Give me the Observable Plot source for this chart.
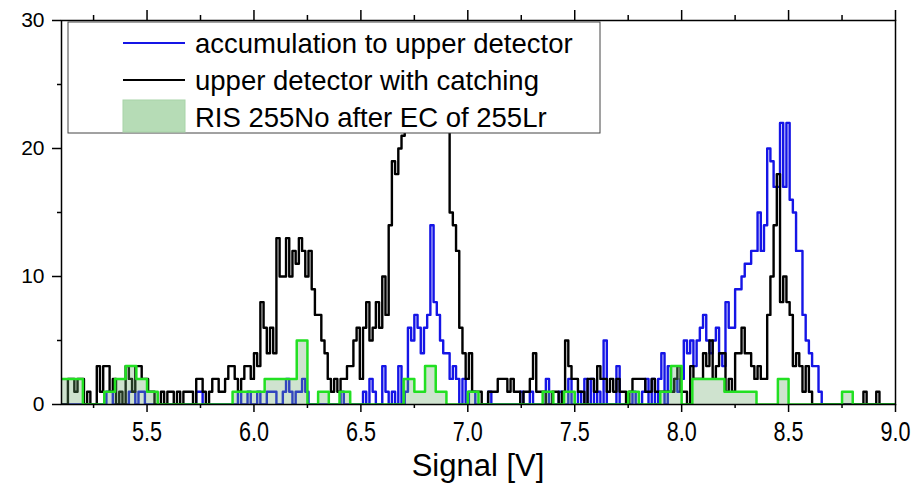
<!DOCTYPE html>
<html><head><meta charset="utf-8">
<script src="https://cdn.jsdelivr.net/npm/d3@7"></script>
<script src="https://cdn.jsdelivr.net/npm/@observablehq/plot@0.6"></script>
<style>
body{margin:0;background:#fff;}
#chart{width:924px;height:484px;}
</style></head><body><div id="chart"></div>
<script>
// ---- data ----
const binStart = 5.1;
const fineBinWidth = 0.015;   // black & blue histograms
const coarseBinWidth = 0.05;  // green (RIS) histogram

// upper detector with catching (black), 20 bins per row = 0.3 V
const upperDetectorCatching = [
  0,0,2,2,1,2,2,0,1,0,0,3,1,3,3,1,2,0,1,0,
  3,2,1,3,3,2,2,1,1,0,0,1,0,1,1,0,1,0,1,1,
  1,0,2,2,1,0,1,2,2,1,1,2,3,3,2,1,2,3,3,2,
  4,3,8,6,4,6,4,13,10,10,13,10,12,11,13,12,10,12,9,7,
  7,5,4,2,1,2,1,2,2,3,3,5,6,2,6,8,5,6,8,6,
  10,7,14,19,18,20,21,23,24,25,24,26,25,27,26,25,26,24,25,23,
  24,15,14,12,6,4,2,4,1,1,1,0,0,1,1,1,2,2,2,1,
  2,1,1,0,1,1,2,4,1,1,1,0,0,1,1,0,1,5,3,2,
  2,1,1,0,2,2,1,3,2,2,1,2,1,2,1,1,0,1,2,2,
  2,2,1,1,2,1,1,1,1,1,1,2,3,1,1,0,3,2,2,2,
  4,3,5,2,3,4,4,1,2,1,4,4,6,4,4,3,2,3,2,2,
  7,10,14,18,8,10,8,7,3,4,3,1,3,1,0,0,0,0,0,0,
  0,0,0,0,0,0,0,0,0,0,1,0,0,0,1,0,0,0,0,0
];

// accumulation to upper detector (blue)
const accumulationUpper = [
  0,0,0,0,0,0,0,0,0,0,0,0,0,0,1,1,0,0,0,0,
  0,1,1,0,1,1,0,0,0,0,0,0,0,0,0,0,0,0,0,0,
  0,0,1,1,0,0,0,0,0,0,0,0,0,0,0,1,0,0,1,0,
  0,1,0,0,1,1,1,0,0,1,2,1,0,1,1,2,1,0,0,0,
  0,0,0,0,0,0,0,1,0,0,0,0,0,0,1,0,2,1,0,0,
  3,1,0,1,0,3,0,1,6,5,7,6,4,6,7,14,8,7,5,4,
  4,2,3,2,0,2,0,1,1,0,0,0,0,1,0,0,0,0,0,0,
  0,0,0,1,0,0,1,0,0,0,0,2,0,0,0,1,0,0,2,0,
  0,1,0,2,0,2,0,1,0,5,0,0,0,3,0,0,0,0,1,0,
  0,1,2,0,2,0,2,4,0,3,1,2,1,2,5,4,5,3,5,6,
  7,5,4,5,6,4,3,8,6,6,9,9,10,11,11,12,12,15,12,14,
  20,19,17,17,22,17,22,16,15,12,12,7,5,4,3,3,1,0,0,0,
  0,0,0,0,0,0,0,0,0,0,0,0,0,0,0,0,0,0,0,0
];

// RIS 255No after EC of 255Lr (green), 0.05 V bins
const risNo255 = [
  2,2,0,0,1,2,3,2,1,0,
  0,0,0,0,0,0,1,1,1,2,
  2,2,5,0,1,0,1,0,0,0,
  0,0,2,1,3,1,0,0,1,0,
  0,0,0,0,0,1,0,1,0,0,
  0,0,0,1,0,0,1,3,0,2,
  2,2,1,1,1,0,0,2,0,0,
  0,0,0,1,0,0,0,0
];

const xTicks = [5.5, 6.0, 6.5, 7.0, 7.5, 8.0, 8.5, 9.0];
const xMinorTicks = [5.25, 5.75, 6.25, 6.75, 7.25, 7.75, 8.25, 8.75];
const yTicks = [0, 10, 20, 30];
const yMinorTicks = [5, 15, 25];
const seriesNames = ["accumulation to upper detector", "upper detector with catching", "RIS 255No after EC of 255Lr"];
const xLabel = "Signal [V]";

// ---- build step tables ----
function toSteps(values, w) {
  const pts = values.map((v, i) => ({x: binStart + i * w, y: v}));
  pts.push({x: binStart + values.length * w, y: values[values.length - 1]});
  return pts;
}
const black = toSteps(upperDetectorCatching, fineBinWidth);
const blue = toSteps(accumulationUpper, fineBinWidth);
const green = toSteps(risNo255, coarseBinWidth);

const FONT = "'Liberation Sans', Arial, sans-serif";
const blank = () => "";
const fmt1 = d3.format(".1f");

const chart = Plot.plot({
  width: 924, height: 484,
  marginLeft: 61, marginRight: 29, marginTop: 20, marginBottom: 80,
  x: {domain: [5.1, 9.0]},
  y: {domain: [0, 30]},
  style: {fontFamily: FONT, fontSize: "21px", color: "black", background: "white"},
  marks: [
    Plot.line(blue, {x: "x", y: "y", curve: "step-after", stroke: "#1515e6", strokeWidth: 2.4, clip: true}),
    Plot.line(black, {x: "x", y: "y", curve: "step-after", stroke: "black", strokeWidth: 2.4, clip: true}),
    Plot.areaY(green, {x: "x", y: "y", curve: "step-after", fill: "#6aa86a", fillOpacity: 0.32, clip: true}),
    Plot.line(green, {x: "x", y: "y", curve: "step-after", stroke: "#22e022", strokeWidth: 2.5, clip: true}),
    Plot.axisX({ticks: xTicks, tickSize: 8, tickPadding: 9, strokeWidth: 1.5, tickFormat: fmt1, label: null}),
    Plot.axisX({ticks: xMinorTicks, tickSize: 4, strokeWidth: 1.5, tickFormat: blank, label: null}),
    Plot.axisX({anchor: "top", ticks: xTicks, tickSize: 11, strokeWidth: 1.5, tickFormat: blank, label: null}),
    Plot.axisX({anchor: "top", ticks: xMinorTicks, tickSize: 6, strokeWidth: 1.5, tickFormat: blank, label: null}),
    Plot.axisY({ticks: yTicks, tickSize: 9, tickPadding: 8, strokeWidth: 1.5, label: null}),
    Plot.axisY({ticks: yMinorTicks, tickSize: 4, strokeWidth: 1.5, tickFormat: blank, label: null}),
    Plot.frame({stroke: "black", strokeWidth: 1.5})
  ]
});

document.getElementById("chart").appendChild(chart);
const svg = d3.select(chart);

// x tick labels: larger, condensed face as in the original
const xLabelSet = new Set(xTicks.map(fmt1));
svg.selectAll("text").filter(function () { return xLabelSet.has(this.textContent); }).each(function () {
  this.setAttribute("font-size", "27");
  this.style.fontSize = "27px";
  const w = this.getComputedTextLength();
  if (w > 0) {
    this.setAttribute("textLength", (w * 0.8).toFixed(1));
    this.setAttribute("lengthAdjust", "spacingAndGlyphs");
  }
});

// ---- legend & axis title ----
const lg = svg.append("g").attr("font-family", FONT).attr("font-size", 27.5)
  .attr("fill", "black").attr("text-anchor", "start");
lg.append("rect").attr("x", 68).attr("y", 22).attr("width", 532).attr("height", 111)
  .attr("fill", "white").attr("stroke", "#444").attr("stroke-width", 1);
const rowsY = [43, 80, 117];
lg.append("line").attr("x1", 123).attr("x2", 185).attr("y1", rowsY[0]).attr("y2", rowsY[0])
  .attr("stroke", "#1515e6").attr("stroke-width", 2);
lg.append("line").attr("x1", 123).attr("x2", 185).attr("y1", rowsY[1]).attr("y2", rowsY[1])
  .attr("stroke", "black").attr("stroke-width", 2);
lg.append("rect").attr("x", 123).attr("y", 100).attr("width", 62).attr("height", 32)
  .attr("fill", "#b6dcb6").attr("stroke", "#a8d4a8");
seriesNames.forEach((s, i) => {
  lg.append("text").attr("x", 195).attr("y", rowsY[i]).attr("dy", "0.35em")
    .attr("text-anchor", "start").text(s);
});
svg.append("text").attr("x", 478).attr("y", 476).attr("text-anchor", "middle")
  .attr("font-family", FONT).attr("font-size", 31).attr("fill", "black").text(xLabel);
</script></body></html>
